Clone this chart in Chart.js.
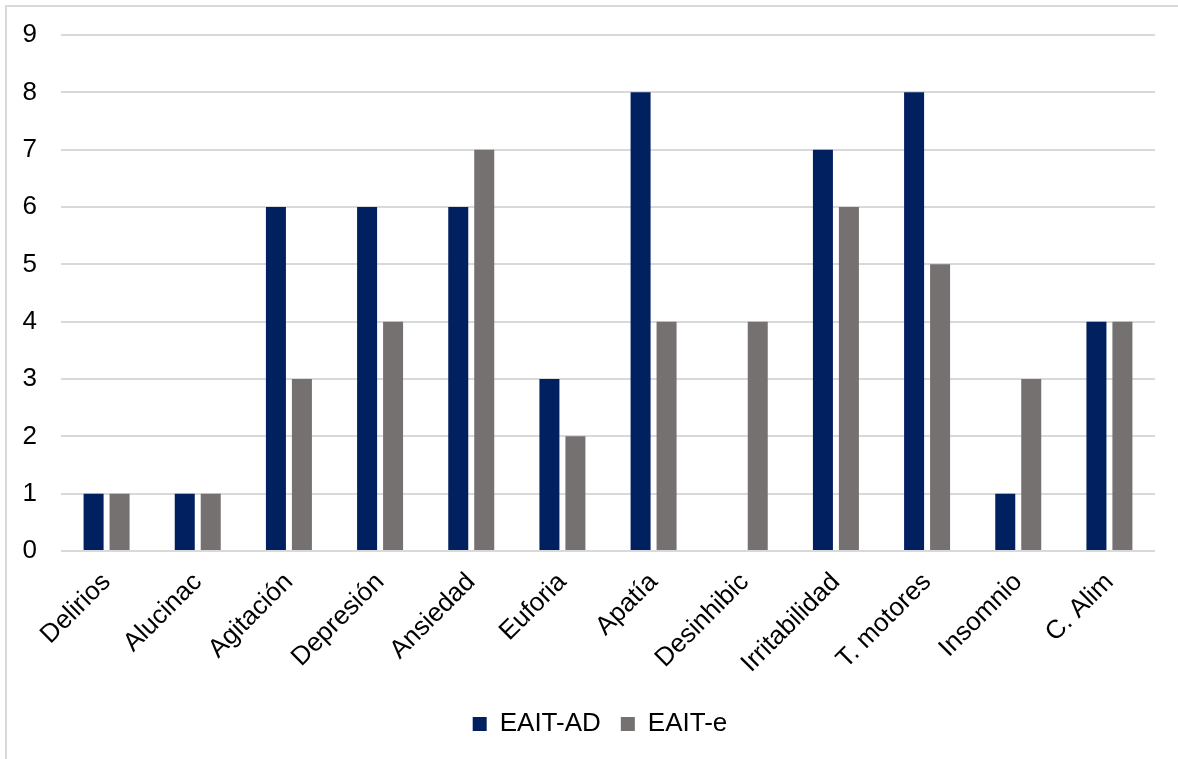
<!DOCTYPE html>
<html>
<head>
<meta charset="utf-8">
<script src="https://cdn.jsdelivr.net/npm/chart.js@4/dist/chart.umd.min.js"></script>
<style>
  html, body { margin: 0; padding: 0; background: #fff; overflow: hidden; }
  #wrap { position: absolute; left: 5px; top: 5px; width: 1200px; height: 800px; border: 2px solid #d9d9d9; box-sizing: border-box; }
  #frame { position: absolute; left: 0; top: 0; width: 1178px; height: 759px; }
</style>
</head>
<body>
<div id="wrap"></div>
<div id="frame"><canvas id="c" width="1178" height="759"></canvas></div>
<script>
// Síntomas neuropsiquiátricos por grupo
const categories = ['Delirios', 'Alucinac', 'Agitación', 'Depresión', 'Ansiedad', 'Euforia', 'Apatía', 'Desinhibic', 'Irritabilidad', 'T. motores', 'Insomnio', 'C. Alim'];
const eaitAD = [1, 1, 6, 6, 6, 3, 8, 0, 7, 8, 1, 4];
const eaitE  = [1, 1, 3, 4, 7, 2, 4, 4, 6, 5, 3, 4];
const yTicks = [0, 1, 2, 3, 4, 5, 6, 7, 8, 9];

const FONT = 'Liberation Sans, Arial, sans-serif';

// Center the legend under the plot area rather than the whole canvas
const centerLegend = {
  id: 'centerLegend',
  afterLayout(chart) {
    const lg = chart.legend;
    if (!lg) return;
    const shift = (chart.chartArea.left + chart.chartArea.right) / 2 - (lg.left + lg.right) / 2 - 8;
    lg.left += shift;
    lg.right += shift;
  }
};

new Chart(document.getElementById('c'), {
  type: 'bar',
  data: {
    labels: categories,
    datasets: [
      { label: 'EAIT-AD', data: eaitAD, backgroundColor: '#002060', categoryPercentage: 0.57, barPercentage: 0.77 },
      { label: 'EAIT-e', data: eaitE, backgroundColor: '#767171', categoryPercentage: 0.57, barPercentage: 0.77 }
    ]
  },
  plugins: [centerLegend],
  options: {
    responsive: false,
    animation: false,
    layout: { padding: { left: 0, right: 23, top: 35, bottom: 12 } },
    plugins: {
      tooltip: { enabled: false },
      legend: {
        position: 'bottom',
        labels: {
          boxWidth: 14, boxHeight: 14, padding: 20,
          color: '#000',
          font: { family: FONT, size: 26 }
        }
      }
    },
    scales: {
      x: {
        grid: { display: false },
        border: { display: false },
        ticks: {
          color: '#000', maxRotation: 45, minRotation: 45, padding: 8,
          font: { family: FONT, size: 26 }
        },
        afterFit: s => { s.height = 140; }
      },
      y: {
        min: 0, max: 9,
        afterBuildTicks: s => { s.ticks = yTicks.map(v => ({ value: v })); },
        grid: { color: '#d9d9d9', lineWidth: 2, drawTicks: false },
        border: { display: false },
        ticks: {
          color: '#000', padding: 24,
          font: { family: FONT, size: 26 }
        },
        afterFit: s => { s.width = 61; s.paddingTop = 0; }
      }
    }
  }
});
</script>
</body>
</html>
